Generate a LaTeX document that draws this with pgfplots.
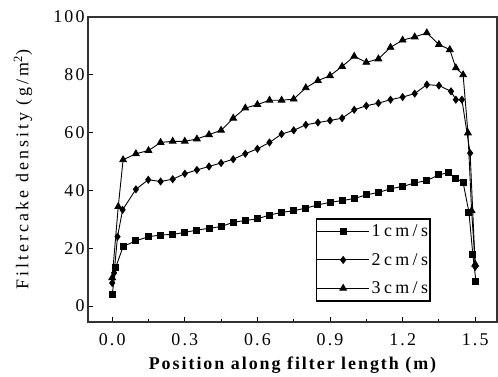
\documentclass[border=0pt]{standalone}
\usepackage{fontspec}
\setmainfont{Liberation Serif}
\newfontfamily\tkfont{Liberation Serif}[LetterSpace=12]
\newfontfamily\xlfont{Liberation Serif}[LetterSpace=11]
\newfontfamily\ylfont{Liberation Serif}[LetterSpace=17]
\newfontfamily\lgfont{Liberation Serif}[LetterSpace=19]
\usepackage{pgfplots}
\pgfplotsset{compat=1.18}
\pgfplotstableread{
x y
0 4
0.015 13.5
0.045 20.6
0.098 22.6
0.15 24
0.2 24.6
0.25 24.8
0.3 25.5
0.35 26.3
0.4 26.9
0.45 27.5
0.5 29
0.55 29.6
0.6 30.2
0.65 31.5
0.7 32.4
0.75 33
0.8 33.9
0.85 35
0.9 35.9
0.95 36.5
1.0 37.2
1.05 38.5
1.1 39.3
1.15 40.6
1.2 41.4
1.25 42.6
1.3 43.4
1.35 45.4
1.39 46.2
1.42 44.3
1.45 42.7
1.474 32.5
1.49 18
1.503 8.5
}\seriesA
\pgfplotstableread{
x y
0 8
0.008 11.5
0.022 24
0.043 33.3
0.098 40.4
0.149 43.7
0.2 43.1
0.25 43.9
0.3 45.8
0.35 47.1
0.4 48.3
0.45 49.5
0.5 50.8
0.55 52.7
0.6 54.4
0.65 56.6
0.7 59.5
0.75 60.8
0.8 62.7
0.85 63.5
0.9 64.2
0.95 65
1.0 67.9
1.05 69.3
1.1 70.2
1.15 71.4
1.2 72.3
1.25 73.5
1.3 76.6
1.35 76.3
1.4 74.3
1.42 71.4
1.445 71.4
1.479 52.9
1.5 13.6
}\seriesB
\pgfplotstableread{
x y
0 9.8
0.025 34.4
0.045 50.6
0.098 52.7
0.15 53.8
0.2 56.6
0.25 57
0.3 57
0.35 57.8
0.4 59.3
0.45 60.8
0.5 65
0.55 68.5
0.6 69.7
0.65 71.2
0.7 71.2
0.75 71.6
0.8 75.5
0.85 78
0.9 79.7
0.95 82.9
1.0 86.4
1.05 84.3
1.1 85.5
1.15 89.5
1.2 92
1.25 93.1
1.3 94.5
1.35 90.5
1.395 88.7
1.42 82.4
1.45 80
1.47 59.9
1.485 33
1.5 14.5
}\seriesC
\begin{document}
\begin{tikzpicture}
\begin{axis}[
  width=409bp, height=305bp, scale only axis,
  xmin=-0.1, xmax=1.59, ymin=-5.5, ymax=100,
  xtick={0,0.3,0.6,0.9,1.2,1.5},
  minor xtick={0.15,0.45,0.75,1.05,1.35},
  ytick={0,20,40,60,80,100},
  tick align=inside, xtick pos=bottom, ytick pos=left,
  major tick length=5bp, minor tick length=3bp,
  axis line style={line width=1.3bp, black!80},
  every tick/.style={line width=1bp, black},
  /pgf/number format/assume math mode=true,
  xticklabel={\pgfmathprintnumber[fixed,fixed zerofill,precision=1]{\tick}},
  ticklabel style={font=\tkfont\fontsize{18}{18}\selectfont},
  xticklabel style={yshift=-8bp},
  xlabel={\xlfont\bfseries Position along filter length (m)},
  ylabel={Filtercake density (g/m\textsuperscript{2})},
  xlabel style={font=\xlfont\fontsize{18}{18}\selectfont, at={(axis description cs:0.5,-0.14)}, anchor=center},
  ylabel style={font=\ylfont\fontsize{18}{18}\selectfont, at={(axis description cs:-0.159,0.5)}, anchor=center},
  legend style={at={(rel axis cs:0.838,0.34)}, anchor=north east,
    font=\lgfont\fontsize{18}{18}\selectfont, draw=black, line width=1.3bp,
    inner xsep=0bp, inner ysep=4bp, row sep=11bp},
  legend cell align=left,
  legend image code/.code={\draw[mark repeat=2,mark phase=2,#1] plot coordinates {(0bp,0bp) (26bp,0bp) (52bp,0bp)};},
  every axis plot/.append style={black, line width=0.9bp, mark options={solid}},
]
\addplot[mark=square*, mark size=3bp] table {\seriesA};
\addplot[mark=diamond*, mark size=3.4bp] table {\seriesB};
\addplot[mark=triangle*, mark size=3.8bp] table {\seriesC};
\legend{1cm/s,2cm/s,3cm/s}
\end{axis}
\pgfresetboundingbox
\path[use as bounding box] ([shift={(-88bp,-55bp)}]current axis.south west) rectangle ([shift={(1bp,17bp)}]current axis.north east);
\end{tikzpicture}
\end{document}
